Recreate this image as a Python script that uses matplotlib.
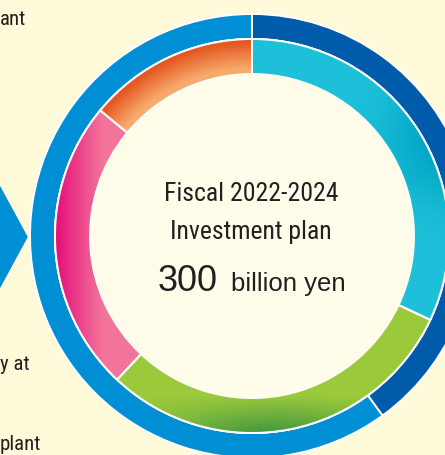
import numpy as np
import matplotlib
matplotlib.use("Agg")
import matplotlib.pyplot as plt
from matplotlib.patches import Wedge
from matplotlib.colors import to_rgb

# Outer ring: two shares of the 300 billion yen plan (%)
outer_values = [40, 60]
outer_colors = ["#005BAB", "#008ED4"]

# Inner ring: four investment areas (%), clockwise from the top
inner_values = [32, 30, 24, 14]
inner_light = ["#1FC0D9", "#9BC93C", "#F2749B", "#F7AA6B"]
inner_dark = ["#00A7C5", "#4A9C3E", "#E5127A", "#E3541E"]

center_lines = ["Fiscal 2022-2024", "Investment plan"]
total_value = "300"
total_unit = "billion yen"
side_labels = ["ant", "y at", "plant"]

BG = "#FFFAD9"
HOLE = "#FFFCEA"
TEXT = "#231F20"
NARROW = ["Roboto Condensed", "DejaVu Sans Condensed", "Liberation Sans Narrow",
          "Roboto", "DejaVu Sans"]
REGULAR = ["Liberation Sans", "DejaVu Sans"]

# pixel geometry (centre of the donut at px 252, 236)
CX, CY = 252, 236
R_OUT, W_OUT = 222, 25
R_IN, W_IN = 197, 35
W, H = 445, 455

fig = plt.figure(figsize=(W / 100, H / 100), dpi=100)
fig.patch.set_facecolor(BG)
ax = fig.add_axes([0, 0, 1, 1])
ax.set_facecolor(BG)


def px(x, y):
    # image pixel -> data coords
    return x - CX, CY - y


# outer ring
ax.pie(outer_values, radius=R_OUT, colors=outer_colors, startangle=90,
       counterclock=False,
       wedgeprops=dict(width=W_OUT, edgecolor="white", linewidth=1.4))

# inner ring
inner_wedges, _ = ax.pie(inner_values, radius=R_IN, colors=inner_light,
                         startangle=90, counterclock=False,
                         wedgeprops=dict(width=W_IN, edgecolor="white",
                                         linewidth=1.4))

# gradient shading inside each inner wedge
xmin, xmax = -CX, W - CX
ymin, ymax = CY - H, CY
gx, gy = np.meshgrid(np.linspace(xmin, xmax, W), np.linspace(ymax, ymin, H))
rr = np.hypot(gx, gy)
th = np.degrees(np.arctan2(gy, gx))
rn = np.clip((rr - (R_IN - W_IN)) / W_IN, 0, 1)

weights = [
    np.exp(-((th - 26) / 17) ** 2) * (0.45 + 0.55 * rn),
    np.clip((-gy - 160) / 34, 0, 1) * np.exp(-((gx - 25) / 110) ** 2),
    np.clip((-150 - gx) / 45, 0, 1),
    np.clip((rr - 168) / 26, 0, 1) * 0.95,
]

for wedge, lo, hi, wgt in zip(inner_wedges, inner_light, inner_dark, weights):
    lo, hi = np.array(to_rgb(lo)), np.array(to_rgb(hi))
    img = lo[None, None, :] * (1 - wgt[..., None]) + hi[None, None, :] * wgt[..., None]
    im = ax.imshow(img, extent=(xmin, xmax, ymin, ymax), origin="upper",
                   interpolation="bilinear", zorder=1.5)
    im.set_clip_path(wedge)
    wedge.set_zorder(1)
    ax.add_patch(Wedge(wedge.center, wedge.r, wedge.theta1, wedge.theta2,
                       width=wedge.width, facecolor="none", edgecolor="white",
                       linewidth=1.4, zorder=2))

# hole
ax.add_patch(plt.Circle((0, 0), R_IN - W_IN - 0.6, color=HOLE, zorder=3))

# chevron on the left
ax.add_patch(plt.Polygon([px(-5, 178), px(27, 237), px(-5, 296)],
                         closed=True, color="#008ED4", zorder=2))

# centre text
ax.text(*px(251, 201), center_lines[0], ha="center", va="baseline",
        fontsize=18.5, color=TEXT, family=NARROW, zorder=4)
ax.text(*px(251, 239), center_lines[1], ha="center", va="baseline",
        fontsize=18.5, color=TEXT, family=NARROW, zorder=4)
ax.text(*px(218, 291), total_value, ha="right", va="baseline",
        fontsize=26, color=TEXT, family=REGULAR, zorder=4)
ax.text(*px(231, 291), total_unit, ha="left", va="baseline",
        fontsize=18.5, color=TEXT, family=REGULAR, zorder=4)

# side labels, cut off by the crop of the original layout
for (lx, ly), lab in zip([(0, 25), (0, 370), (0, 450)], side_labels):
    ax.text(*px(lx, ly), lab, ha="left", va="baseline", fontsize=15,
            color=TEXT, family=NARROW, zorder=4)

ax.set_xlim(xmin, xmax)
ax.set_ylim(ymin, ymax)
ax.set_aspect("equal")
ax.axis("off")

fig.savefig("out.png", dpi=100, facecolor=BG)
